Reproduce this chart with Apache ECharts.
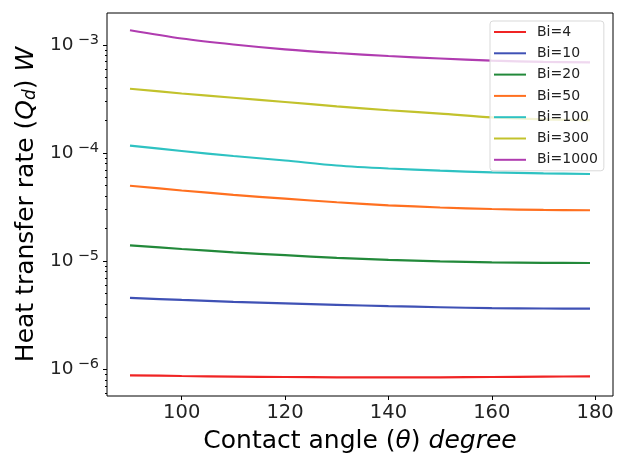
<!DOCTYPE html>
<html>
<head>
<meta charset="utf-8">
<script src="https://cdn.jsdelivr.net/npm/echarts@6/dist/echarts.min.js"></script>
<style>html,body{margin:0;padding:0;background:#fff;}#c{width:622px;height:459px;}</style>
</head>
<body>
<div id="c"></div>
<script>
const theta = [90, 100, 110, 120, 130, 140, 150, 160, 170, 179];
const bi4    = [8.80e-7, 8.67e-7, 8.56e-7, 8.49e-7, 8.43e-7, 8.41e-7, 8.43e-7, 8.49e-7, 8.56e-7, 8.61e-7];
const bi10   = [4.57e-6, 4.38e-6, 4.21e-6, 4.07e-6, 3.95e-6, 3.84e-6, 3.75e-6, 3.68e-6, 3.65e-6, 3.64e-6];
const bi20   = [1.403e-5, 1.297e-5, 1.209e-5, 1.136e-5, 1.075e-5, 1.030e-5, 9.98e-6, 9.77e-6, 9.66e-6, 9.62e-6];
const bi50   = [4.99e-5, 4.51e-5, 4.11e-5, 3.79e-5, 3.51e-5, 3.29e-5, 3.14e-5, 3.04e-5, 2.98e-5, 2.96e-5];
const bi100  = [1.171e-4, 1.046e-4, 9.40e-5, 8.54e-5, 7.68e-5, 7.20e-5, 6.88e-5, 6.64e-5, 6.48e-5, 6.41e-5];
const bi300  = [3.94e-4, 3.56e-4, 3.25e-4, 2.97e-4, 2.71e-4, 2.49e-4, 2.32e-4, 2.14e-4, 2.05e-4, 2.02e-4];
const bi1000 = [1.368e-3, 1.148e-3, 1.011e-3, 9.12e-4, 8.43e-4, 7.91e-4, 7.50e-4, 7.17e-4, 6.99e-4, 6.92e-4];
const seriesNames = ['Bi=4', 'Bi=10', 'Bi=20', 'Bi=50', 'Bi=100', 'Bi=300', 'Bi=1000'];
const seriesValues = [bi4, bi10, bi20, bi50, bi100, bi300, bi1000];
const colors = ['#f02424', '#3f51b5', '#22893a', '#ff7020', '#2ec2c2', '#c2c22c', '#b03cb0'];
const xTicks = [100, 120, 140, 160, 180];
const yMajor = [1e-6, 1e-5, 1e-4, 1e-3];
const yMinor = [];
for (let e = -7; e <= -3; e++) for (let m = 2; m <= 9; m++) yMinor.push(m * Math.pow(10, e));

const yMin = Math.pow(10, -6.247), yMax = Math.pow(10, -2.704);
const font = 'DejaVu Sans';
const chart = echarts.init(document.getElementById('c'), null, {renderer: 'canvas'});
chart.setOption({
  animation: false,
  color: colors,
  grid: {left: 107, top: 13, right: 9, bottom: 63, show: true, borderColor: '#000', borderWidth: 1, backgroundColor: 'transparent'},
  legend: {
    orient: 'vertical', left: 490, top: 21,
    data: seriesNames,
    icon: 'rect',
    backgroundColor: 'rgba(255,255,255,0.8)', borderColor: '#d9d9d9', borderWidth: 1, borderRadius: 3,
    padding: [3, 6, 3, 4],
    itemWidth: 32, itemHeight: 2, itemGap: 5.3,
    textStyle: {fontFamily: font, fontSize: 14, color: '#222', padding: [0, 0, 0, 6], lineHeight: 16}
  },
  xAxis: {
    type: 'value', min: 85.55, max: 183.45,
    name: 'Contact angle ({i|θ}) {i|degree}', nameLocation: 'middle', nameGap: 33,
    nameTextStyle: {fontFamily: font, fontSize: 25, color: '#000',
      rich: {i: {fontFamily: font, fontSize: 25, fontStyle: 'italic', color: '#000'}}},
    axisLine: {show: false},
    splitLine: {show: false},
    axisTick: {show: true, length: 4, customValues: xTicks, lineStyle: {color: '#000'}},
    axisLabel: {customValues: xTicks, fontFamily: font, fontSize: 19.5, color: '#222', margin: 7}
  },
  yAxis: [{
    type: 'log', logBase: 10, min: yMin, max: yMax,
    name: 'Heat transfer rate ({i|Q}{sub|d}) {i|W}', nameLocation: 'middle', nameGap: 67,
    nameTextStyle: {fontFamily: font, fontSize: 25, color: '#000',
      rich: {i: {fontFamily: font, fontSize: 25, fontStyle: 'italic', color: '#000'},
             sub: {fontFamily: font, fontSize: 17, fontStyle: 'italic', color: '#000', padding: [8, 0, 0, 0]}}},
    axisLine: {show: false},
    splitLine: {show: false},
    axisTick: {show: true, length: 4, customValues: yMajor, lineStyle: {color: '#000'}},
    axisLabel: {
      customValues: yMajor, margin: 7,
      formatter: function (v) { return '{b|10}{s|−' + Math.round(-Math.log10(v)) + '}'; },
      rich: {
        b: {fontFamily: font, fontSize: 18.5, color: '#222', lineHeight: 25},
        s: {fontFamily: font, fontSize: 14.5, color: '#222', lineHeight: 16, verticalAlign: 'top', padding: [0, 1, 0, 4]}
      }
    }
  }, {
    type: 'log', logBase: 10, min: yMin, max: yMax, position: 'left',
    axisLine: {show: false}, splitLine: {show: false},
    axisLabel: {show: false},
    axisTick: {show: true, length: 2, customValues: yMinor, lineStyle: {color: '#000'}}
  }],
  series: seriesNames.map((n, k) => ({
    name: n, type: 'line', yAxisIndex: 0, symbol: 'none', smooth: 0.3,
    lineStyle: {width: 2.2, color: colors[k]}, itemStyle: {color: colors[k]},
    data: theta.map((t, i) => [t, seriesValues[k][i]])
  }))
});
</script>
</body>
</html>
